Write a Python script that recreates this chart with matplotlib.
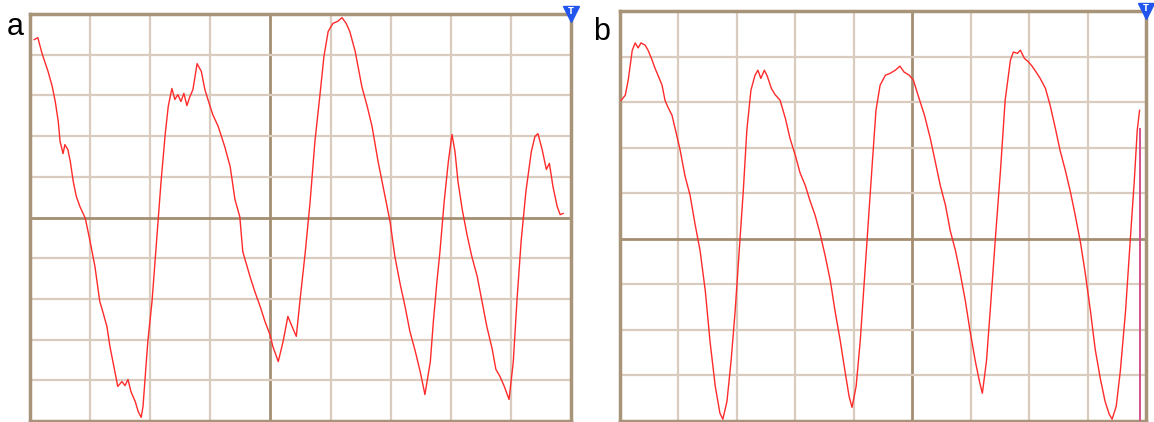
import matplotlib
matplotlib.use("Agg")
import matplotlib.pyplot as plt

# scope traces, in screen divisions
# panel a: 9 time divisions, 10 volt divisions (-5..5)
a_t = [0.07, 0.13, 0.20, 0.30, 0.37, 0.42, 0.47, 0.50, 0.55, 0.58, 0.63, 0.67, 0.72, 0.77, 0.83, 0.92,
       1.00, 1.08, 1.16, 1.21, 1.28, 1.33, 1.41, 1.46, 1.53, 1.58, 1.63, 1.68, 1.75, 1.80, 1.85, 1.88,
       1.91, 1.96, 2.03, 2.08, 2.13, 2.18, 2.25, 2.30, 2.36, 2.41, 2.46, 2.51, 2.56, 2.61, 2.66, 2.71,
       2.78, 2.85, 2.91, 2.96, 3.04, 3.13, 3.24, 3.33, 3.41, 3.49, 3.54, 3.66, 3.74, 3.83, 3.91, 3.99,
       4.04, 4.13, 4.21, 4.29, 4.36, 4.43, 4.49, 4.58, 4.66, 4.74, 4.83, 4.89, 4.96, 5.04, 5.12, 5.19,
       5.26, 5.32, 5.41, 5.52, 5.61, 5.69, 5.79, 5.89, 5.99, 6.07, 6.16, 6.24, 6.32, 6.41, 6.49, 6.57,
       6.66, 6.71, 6.77, 6.82, 6.89, 6.96, 7.02, 7.07, 7.12, 7.19, 7.27, 7.35, 7.44, 7.52, 7.60, 7.69,
       7.75, 7.82, 7.89, 7.97, 8.04, 8.10, 8.17, 8.25, 8.34, 8.40, 8.45, 8.52, 8.59, 8.64, 8.70, 8.77,
       8.82, 8.87]
a_v = [4.37, 4.42, 4.03, 3.59, 3.22, 2.85, 2.36, 1.87, 1.57, 1.79, 1.67, 1.38, 0.88, 0.52, 0.27, -0.02,
       -0.59, -1.20, -2.06, -2.31, -2.68, -3.17, -3.78, -4.15, -4.03, -4.13, -3.98, -4.28, -4.52, -4.77, -4.91, -4.64,
       -4.03, -3.05, -2.06, -1.08, -0.10, 0.88, 2.06, 2.73, 3.17, 2.90, 3.02, 2.85, 3.05, 2.75, 2.97, 3.14,
       3.78, 3.59, 3.14, 2.90, 2.53, 2.24, 1.74, 1.25, 0.44, 0.02, -0.84, -1.45, -1.82, -2.19, -2.56, -2.87,
       -3.17, -3.54, -3.05, -2.43, -2.68, -2.92, -2.06, -0.84, 0.39, 1.87, 3.10, 3.96, 4.57, 4.77, 4.82, 4.91,
       4.77, 4.57, 4.08, 3.22, 2.73, 2.24, 1.38, 0.64, -0.10, -0.96, -1.65, -2.19, -2.80, -3.29, -3.78, -4.35,
       -3.54, -2.56, -1.57, -0.84, 0.39, 1.38, 2.04, 1.62, 0.88, 0.20, -0.42, -0.96, -1.45, -2.06, -2.68, -3.24,
       -3.73, -3.91, -4.15, -4.47, -3.54, -2.06, -0.59, 0.64, 1.62, 1.99, 2.06, 1.67, 1.18, 1.33, 0.76, 0.27,
       0.07, 0.10]

# panel b: 9 time divisions, volt divisions -4..5
b_t = [0.02, 0.09, 0.14, 0.21, 0.26, 0.31, 0.36, 0.43, 0.48, 0.55, 0.60, 0.65, 0.72, 0.77, 0.82, 0.89,
       0.96, 1.03, 1.11, 1.20, 1.28, 1.37, 1.46, 1.54, 1.63, 1.71, 1.76, 1.83, 1.90, 1.97, 2.04, 2.11,
       2.17, 2.24, 2.31, 2.36, 2.41, 2.47, 2.52, 2.59, 2.65, 2.74, 2.83, 2.91, 3.00, 3.08, 3.17, 3.25,
       3.34, 3.42, 3.51, 3.60, 3.68, 3.77, 3.85, 3.92, 3.97, 4.04, 4.11, 4.18, 4.25, 4.32, 4.38, 4.45,
       4.54, 4.62, 4.71, 4.79, 4.86, 4.95, 5.02, 5.10, 5.21, 5.31, 5.39, 5.48, 5.57, 5.65, 5.74, 5.82,
       5.91, 5.99, 6.08, 6.15, 6.20, 6.27, 6.34, 6.42, 6.51, 6.59, 6.68, 6.73, 6.80, 6.85, 6.92, 6.99,
       7.05, 7.12, 7.19, 7.28, 7.36, 7.45, 7.53, 7.62, 7.71, 7.79, 7.88, 7.96, 8.05, 8.13, 8.22, 8.30,
       8.37, 8.42, 8.49, 8.56, 8.65, 8.73, 8.80, 8.85, 8.89]
b_v = [3.04, 3.15, 3.48, 4.14, 4.30, 4.19, 4.30, 4.25, 4.14, 3.92, 3.74, 3.59, 3.37, 3.04, 2.89, 2.71,
       2.33, 1.94, 1.39, 0.95, 0.35, -0.26, -1.15, -2.25, -3.24, -3.83, -3.96, -3.57, -2.69, -1.59, -0.26, 1.06,
       2.38, 3.26, 3.59, 3.70, 3.52, 3.70, 3.57, 3.30, 3.17, 3.04, 2.64, 2.20, 1.83, 1.45, 1.17, 0.84,
       0.51, 0.13, -0.37, -0.93, -1.59, -2.25, -2.91, -3.46, -3.70, -3.24, -2.25, -0.93, 0.40, 1.72, 2.82, 3.37,
       3.59, 3.63, 3.70, 3.79, 3.66, 3.59, 3.48, 3.15, 2.71, 2.20, 1.72, 1.17, 0.73, 0.18, -0.26, -0.75,
       -1.37, -2.03, -2.69, -3.13, -3.39, -2.69, -1.48, -0.04, 1.50, 3.04, 3.92, 4.10, 4.07, 4.14, 3.96, 3.88,
       3.79, 3.66, 3.52, 3.30, 2.93, 2.42, 1.94, 1.50, 1.01, 0.51, -0.09, -0.75, -1.59, -2.42, -3.08, -3.57,
       -3.85, -3.96, -3.68, -2.91, -1.59, -0.04, 1.28, 2.38, 2.82]

W, H = 1154, 422
fig = plt.figure(figsize=(W / 100, H / 100), dpi=100)

grid_c = '#d9ccbe'
axis_c = '#a48e72'
frame_c = '#a89478'
trace_c = '#ff2a2a'


def scope(ax, t, v, ymin, ymax, xmid):
    ax.set_xlim(0, 9)
    ax.set_ylim(ymin, ymax)
    for x in range(1, 9):
        if x == xmid:
            ax.axvline(x, color=axis_c, lw=2.0, zorder=1)
        else:
            ax.axvline(x, color=grid_c, lw=1.6, zorder=1)
    for y in range(ymin + 1, ymax):
        if y == 0:
            ax.axhline(y, color=axis_c, lw=2.0, zorder=1)
        else:
            ax.axhline(y, color=grid_c, lw=1.6, zorder=1)
    ax.plot(t, v, color=trace_c, lw=1.0, zorder=3)
    ax.set_xticks([])
    ax.set_yticks([])
    for s in ax.spines.values():
        s.set_color(frame_c)
        s.set_linewidth(2.5)
    # trigger marker
    ax.plot([9], [ymax], marker='v', ms=11, color='#2255ee', clip_on=False, zorder=5)
    ax.text(9, ymax + 0.05, 'T', color='white', fontsize=6, fontweight='bold',
            ha='center', va='center', clip_on=False, zorder=6)


ax1 = fig.add_axes([30 / W, 1 / H, 541 / W, 407 / H])
scope(ax1, a_t, a_v, -5, 5, 4)

ax2 = fig.add_axes([620 / W, 1 / H, 526 / W, 410 / H])
scope(ax2, b_t, b_v, -4, 5, 5)
# end-of-sweep retrace
ax2.plot([b_t[-1], b_t[-1]], [-4, b_v[-1] - 0.4], color='#d4508c', lw=1.4, zorder=4)

fig.text(15 / W, 1 - 27 / H, 'a', fontsize=22, family='Liberation Sans', ha='center', va='center')
fig.text(602 / W, 1 - 32 / H, 'b', fontsize=22, family='Liberation Sans', ha='center', va='center')

fig.savefig('out.png', dpi=100)
